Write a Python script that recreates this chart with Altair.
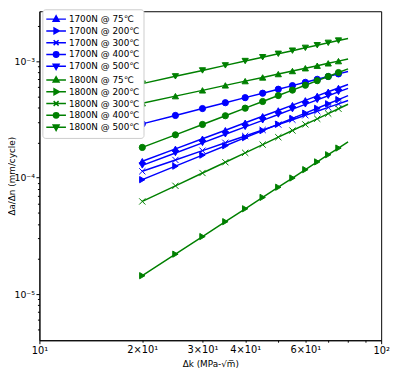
import altair as alt
import pandas as pd

# ---- data ----
dk = [20, 25, 30, 35, 40, 45, 50, 55, 60, 65, 70, 75, 80]
series = ["1700N @ 75℃", "1700N @ 200℃", "1700N @ 300℃", "1700N @ 400℃", "1700N @ 500℃",
          "1800N @ 75℃", "1800N @ 200℃", "1800N @ 300℃", "1800N @ 400℃", "1800N @ 500℃"]
v_1700_75 = [1.386e-4, 1.770e-4, 2.161e-4, 2.559e-4, 2.963e-4, 3.371e-4, 3.784e-4, 4.200e-4, 4.621e-4, 5.045e-4, 5.472e-4, 5.902e-4, 6.33e-4]
v_1700_200 = [9.62e-5, 1.256e-4, 1.563e-4, 1.881e-4, 2.207e-4, 2.541e-4, 2.884e-4, 3.233e-4, 3.588e-4, 3.949e-4, 4.316e-4, 4.688e-4, 5.07e-4]
v_1700_300 = [1.135e-4, 1.421e-4, 1.708e-4, 1.996e-4, 2.284e-4, 2.572e-4, 2.860e-4, 3.149e-4, 3.438e-4, 3.728e-4, 4.017e-4, 4.306e-4, 4.60e-4]
v_1700_400 = [2.90e-4, 3.427e-4, 3.929e-4, 4.409e-4, 4.873e-4, 5.321e-4, 5.758e-4, 6.184e-4, 6.600e-4, 7.006e-4, 7.406e-4, 7.800e-4, 8.18e-4]
v_1700_500 = [1.275e-4, 1.630e-4, 1.991e-4, 2.360e-4, 2.733e-4, 3.112e-4, 3.494e-4, 3.881e-4, 4.269e-4, 4.664e-4, 5.059e-4, 5.460e-4, 5.86e-4]
v_1800_75 = [4.36e-4, 5.02e-4, 5.63e-4, 6.21e-4, 6.76e-4, 7.27e-4, 7.77e-4, 8.25e-4, 8.72e-4, 9.17e-4, 9.61e-4, 1.004e-3, 1.046e-3]
v_1800_200 = [1.438e-5, 2.202e-5, 3.120e-5, 4.189e-5, 5.407e-5, 6.770e-5, 8.279e-5, 9.933e-5, 1.173e-4, 1.367e-4, 1.575e-4, 1.797e-4, 2.03e-4]
v_1800_300 = [6.25e-5, 8.517e-5, 1.097e-4, 1.358e-4, 1.635e-4, 1.925e-4, 2.228e-4, 2.543e-4, 2.870e-4, 3.207e-4, 3.553e-4, 3.911e-4, 4.28e-4]
v_1800_400 = [1.82e-4, 2.336e-4, 2.867e-4, 3.407e-4, 3.958e-4, 4.517e-4, 5.083e-4, 5.656e-4, 6.236e-4, 6.822e-4, 7.413e-4, 8.009e-4, 8.61e-4]
v_1800_500 = [6.43e-4, 7.43e-4, 8.35e-4, 9.23e-4, 1.006e-3, 1.085e-3, 1.161e-3, 1.235e-3, 1.306e-3, 1.376e-3, 1.442e-3, 1.508e-3, 1.573e-3]
values = [v_1700_75, v_1700_200, v_1700_300, v_1700_400, v_1700_500,
          v_1800_75, v_1800_200, v_1800_300, v_1800_400, v_1800_500]
marker_max_dk = 75

x_ticks = [10, 20, 30, 40, 50, 60, 70, 80, 90, 100]
y_ticks = [5e-6, 6e-6, 7e-6, 8e-6, 9e-6,
           1e-5, 2e-5, 3e-5, 4e-5, 5e-5, 6e-5, 7e-5, 8e-5, 9e-5,
           1e-4, 2e-4, 3e-4, 4e-4, 5e-4, 6e-4, 7e-4, 8e-4, 9e-4,
           1e-3, 2e-3]

rows = []
for name, vals in zip(series, values):
    for x, y in zip(dk, vals):
        rows.append({"dk": x, "rate": y, "series": name})
df = pd.DataFrame(rows)

BLUE = "#0000ff"
GREEN = "#008000"
colors = [BLUE] * 5 + [GREEN] * 5
X_PATH = "M-1,-1L1,1M-1,1L1,-1"
shapes = ["triangle-up", "triangle-right", X_PATH, "circle", "triangle-down"] * 2

# legend symbols: line segment with marker (path unit = 5 px)
LINE = "M-1.2,0L2.8,0"
P_UP = LINE + "M0.8,-0.66L1.4,0.42L0.2,0.42Z"
P_RIGHT = LINE + "M1.46,0L0.38,0.6L0.38,-0.6Z"
P_X = LINE + "M0.3,-0.5L1.3,0.5M0.3,0.5L1.3,-0.5"
P_CIRC = LINE + "M1.35,0A0.55,0.55,0,1,1,0.25,0A0.55,0.55,0,1,1,1.35,0Z"
P_DOWN = LINE + "M0.8,0.66L1.4,-0.42L0.2,-0.42Z"
legend_shapes = [P_UP, P_RIGHT, P_X, P_CIRC, P_DOWN] * 2

FONT = "DejaVu Sans"

x_scale = alt.Scale(type="log", domain=[10, 100], nice=False)
y_scale = alt.Scale(type="log", domain=[4.01e-6, 2.693e-3], nice=False)
color_scale = alt.Scale(domain=series, range=colors)
shape_scale = alt.Scale(domain=series, range=shapes)
legend_shape_scale = alt.Scale(domain=series, range=legend_shapes)

x_label_expr = ("datum.value==10 ? '10¹' : datum.value==20 ? '2×10¹' : datum.value==30 ? '3×10¹' : "
                "datum.value==40 ? '4×10¹' : datum.value==60 ? '6×10¹' : datum.value==100 ? '10²' : ''")
y_label_expr = ("abs(datum.value-1e-5)<1e-9 ? '10⁻⁵' : abs(datum.value-1e-4)<1e-8 ? '10⁻⁴' : "
                "abs(datum.value-1e-3)<1e-7 ? '10⁻³' : ''")

x_axis = alt.Axis(values=x_ticks, labelExpr=x_label_expr, grid=False,
                  title="Δk (MPa-√m̅)", titleFont=FONT, titleFontSize=9, titleFontWeight="normal",
                  titlePadding=4, labelFont=FONT, labelFontSize=10, labelColor="black",
                  tickColor="black", domainColor="black", labelFlush=False, labelOverlap=False,
                  tickSize={"condition": {"test": "datum.value==10 || datum.value==100", "value": 3.5}, "value": 2},
                  labelPadding=2)
y_axis = alt.Axis(values=y_ticks, labelExpr=y_label_expr, grid=False,
                  title="Δa/Δn (mm/cycle)", titleFont=FONT, titleFontSize=9, titleFontWeight="normal",
                  titleX=-32, titleBaseline="top", titleAngle=270,
                  labelFont=FONT, labelFontSize=9.5, labelColor="black",
                  tickColor="black", domainColor="black", labelOverlap=False, labelFlush=False,
                  tickSize={"condition": {"test": "abs(log(datum.value)/LN10 - round(log(datum.value)/LN10)) < 1e-6", "value": 3.5}, "value": 2},
                  labelPadding=1.5)

legend = alt.Legend(
    title=None, orient="none", legendX=3, legendY=-2,
    fillColor="white", strokeColor="#cccccc", cornerRadius=3, padding=4,
    labelFont=FONT, labelFontSize=9, labelColor="black", labelOffset=11,
    symbolSize=100, symbolStrokeWidth=1.5, symbolOpacity=1, rowPadding=0, labelLimit=200,
)

base = alt.Chart(df)
lines = base.mark_line(strokeWidth=1.5, clip=True).encode(
    x=alt.X("dk:Q", scale=x_scale, axis=x_axis),
    y=alt.Y("rate:Q", scale=y_scale, axis=y_axis),
    color=alt.Color("series:N", scale=color_scale, legend=None),
    detail="series:N",
)
points = base.transform_filter(alt.datum.dk <= marker_max_dk).mark_point(
    filled=True, size=40, opacity=1, strokeWidth=1).encode(
    x=alt.X("dk:Q", scale=x_scale),
    y=alt.Y("rate:Q", scale=y_scale),
    color=alt.Color("series:N", scale=color_scale, legend=None),
    shape=alt.Shape("series:N", scale=shape_scale, legend=None),
    stroke=alt.Stroke("series:N", scale=color_scale, legend=None),
)
# legend-only layer (no rows drawn): its symbols are line + marker
legend_layer = base.transform_filter("false").mark_point(
    filled=True, opacity=1, strokeWidth=1.5).encode(
    x=alt.X("dk:Q", scale=x_scale),
    y=alt.Y("rate:Q", scale=y_scale),
    color=alt.Color("series:N", scale=color_scale, legend=legend),
    shape=alt.Shape("series:N", scale=legend_shape_scale, legend=legend),
    stroke=alt.Stroke("series:N", scale=color_scale, legend=legend),
)

chart = alt.layer(lines, points, legend_layer).resolve_scale(
    shape="independent", color="independent", stroke="independent"
).properties(
    width=348, height=335,
    autosize=alt.AutoSizeParams(type="none"),
    padding={"left": 32, "top": 0, "right": 10, "bottom": 28},
    background="white",
).configure_view(stroke="black", strokeWidth=1)

chart.save("out.html", embed_options={"renderer": "svg", "actions": False})
